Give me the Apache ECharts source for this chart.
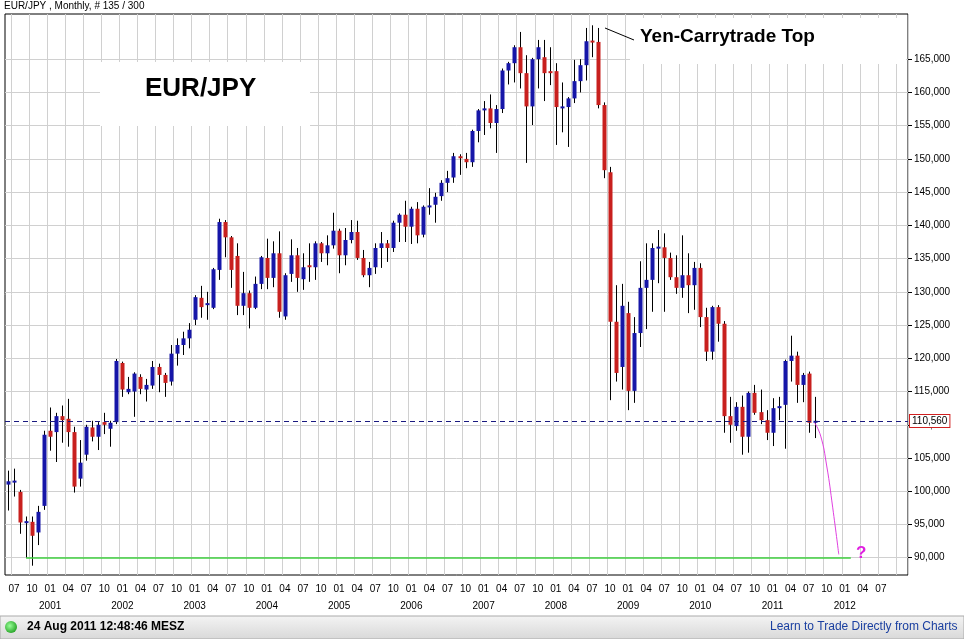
<!DOCTYPE html>
<html><head><meta charset="utf-8">
<script src="https://cdn.jsdelivr.net/npm/echarts@6/dist/echarts.min.js"></script>
<style>html,body{margin:0;padding:0;background:#fff}#c{width:964px;height:639px}</style>
</head><body><div id="c"></div>
<script>
const startYear = 2000, startMonth = 6, slots = 150;
const opens = [101.0,101.3,99.9,95.4,95.4,93.8,97.8,109.1,108.9,111.3,110.9,108.9,101.9,105.5,109.6,108.2,110.4,109.4,110.4,119.3,114.9,115.0,117.2,115.3,115.9,118.7,117.5,116.5,120.7,122.0,123.0,125.8,129.1,128.0,127.6,133.3,140.5,138.2,135.4,127.9,129.8,127.6,131.2,135.1,132.1,135.8,126.3,132.7,135.5,131.9,134.0,133.7,137.3,135.8,137.0,139.2,135.5,137.8,139.0,135.1,132.5,133.7,136.6,137.3,136.6,140.4,141.6,139.8,142.5,138.6,142.8,143.1,144.4,146.4,147.2,150.4,150.0,149.5,154.2,157.3,157.6,155.4,157.5,163.3,164.4,166.8,162.9,157.9,165.0,165.3,163.2,163.2,157.7,157.8,159.1,161.7,164.1,167.8,167.6,158.1,148.0,125.5,118.7,126.8,115.1,123.8,130.6,131.8,136.6,136.7,135.1,132.2,130.6,132.5,131.0,133.6,126.2,121.0,127.7,125.2,111.3,109.8,112.7,108.2,114.8,111.9,110.7,108.8,112.5,113.0,119.6,120.4,116.0,117.7,110.3];
const closes = [101.5,101.6,95.3,95.5,93.3,96.9,108.5,108.2,111.3,110.7,108.9,100.7,104.3,109.7,108.2,110.0,110.0,110.3,119.6,115.3,115.4,117.7,115.4,116.0,118.7,117.5,116.3,120.7,122.0,123.0,124.3,129.2,127.7,128.3,133.4,140.5,138.2,133.3,127.9,129.8,127.6,131.2,135.2,132.1,135.8,127.0,132.5,135.5,132.1,133.7,133.7,137.3,135.8,137.0,139.2,135.5,137.8,139.0,135.1,132.5,133.6,136.6,137.3,136.6,140.4,141.6,139.8,142.5,138.5,142.8,143.0,144.3,146.4,147.1,150.4,150.1,149.5,154.2,157.3,157.6,155.4,157.5,163.3,164.4,166.8,162.9,157.9,165.0,166.8,162.9,162.9,157.8,157.9,159.1,161.7,164.1,167.7,167.6,158.1,148.3,125.5,117.8,127.9,115.1,123.8,130.6,131.8,136.6,136.8,135.1,132.2,130.6,132.5,131.0,133.6,126.2,121.0,127.7,125.2,111.3,110.0,112.7,108.2,114.8,111.8,110.7,108.8,112.5,112.8,119.6,120.4,116.0,117.5,110.3,110.6];
const lows = [97.1,99.2,93.6,90.0,88.8,91.9,97.2,106.1,104.4,107.3,106.7,99.8,100.7,104.6,107.5,106.2,108.6,106.7,110.1,114.2,114.6,111.2,114.6,113.5,115.4,114.9,114.2,115.9,118.9,120.5,121.5,125.0,126.1,125.8,127.4,131.8,135.2,130.6,126.5,126.5,124.5,127.4,130.4,130.4,130.7,126.1,125.8,131.5,130.0,130.3,131.5,131.8,134.5,134.0,136.5,132.8,134.0,137.3,134.8,132.2,130.7,132.7,133.6,134.5,136.0,137.5,137.5,137.2,137.3,138.2,141.6,140.4,143.7,145.0,146.4,147.6,148.6,148.8,152.5,153.6,154.6,150.9,156.9,161.2,161.5,160.6,149.4,155.1,160.6,158.7,161.1,152.1,154.0,151.8,158.4,160.0,161.8,165.3,157.6,147.1,113.7,116.5,115.3,112.2,113.3,121.7,124.4,127.0,131.3,127.0,131.8,129.7,129.1,126.8,127.3,124.7,119.6,119.8,122.5,108.8,107.3,109.1,105.5,105.8,111.5,110.1,107.7,106.8,110.7,106.4,116.5,113.3,113.4,108.8,108.0];
const highs = [103.1,103.4,100.2,96.2,96.2,97.8,109.1,112.6,111.8,112.9,113.9,109.7,107.7,110.0,110.6,110.4,111.8,110.6,119.9,119.5,117.2,117.9,117.6,116.9,119.6,119.2,117.8,122.0,123.0,124.0,125.3,129.5,130.9,130.0,133.6,141.0,140.8,138.4,137.3,133.0,130.2,132.3,135.4,138.0,137.6,139.1,132.8,137.9,136.6,135.8,137.3,137.6,137.5,138.5,141.9,139.5,139.6,140.8,140.7,136.3,134.5,137.3,139.0,137.8,140.7,141.8,143.7,142.8,143.5,143.0,145.6,144.9,146.8,148.2,150.9,150.7,150.9,154.4,157.5,158.7,159.7,158.1,163.6,164.6,167.1,169.1,165.6,165.2,167.9,167.9,166.8,164.4,161.5,159.3,164.9,165.0,169.7,170.1,169.7,158.5,148.8,131.0,131.2,128.5,126.2,134.6,137.3,137.3,139.3,138.8,135.9,135.5,138.5,135.8,134.5,134.3,127.6,127.9,128.0,125.6,114.2,113.4,114.4,115.0,116.0,115.3,112.2,114.0,114.2,119.8,123.4,121.0,117.8,118.0,114.2];
const yTicks = [90,95,100,105,110,115,120,125,130,135,140,145,150,155,160,165];
const projection = [[134,110.3],[135,108.3],[136,103.8],[137,97.5],[138,90.5]];
const lastPrice = 110.56, targetLevel = 90;

const cats = [];
for (let i = 0; i < slots; i++) {
  const m = (startMonth - 1 + i) % 12 + 1, y = startYear + Math.floor((startMonth - 1 + i) / 12);
  cats.push(y + '-' + String(m).padStart(2, '0'));
}
const candles = opens.map((o, i) => [i, o, closes[i], lows[i], highs[i]]);
const isQ = (i) => { const m = +cats[i].slice(5); return m % 3 === 1; };
const fmt = v => v.toFixed(3).replace('.', ',');

const chart = echarts.init(document.getElementById('c'));
chart.setOption({
  animation: false,
  backgroundColor: '#fff',
  grid: {left: 5, right: 56, top: 14, bottom: 64, show: true, borderColor: '#000', borderWidth: 1},
  xAxis: {
    type: 'category', data: cats, boundaryGap: true,
    axisLine: {show: false}, axisTick: {show: false},
    splitLine: {show: true, interval: (i) => isQ(i), lineStyle: {color: '#d0d0d0'}},
    axisLabel: {
      interval: (i) => isQ(i) && i < 146, margin: 6, color: '#000', fontSize: 10, fontFamily: 'Arial, Liberation Sans',
      lineHeight: 17,
      formatter: (v) => { const m = v.slice(5); return m === '01' ? m + '\n' + v.slice(0, 4) : m; }
    }
  },
  yAxis: {
    type: 'value', position: 'right', min: 87.4, max: 171.8, scale: true,
    splitLine: {show: false}, axisLine: {show: false},
    axisTick: {show: true, customValues: yTicks, length: 4, lineStyle: {color: '#000'}},
    axisLabel: {customValues: yTicks, formatter: fmt, color: '#000', fontSize: 10, margin: 6, fontFamily: 'Arial, Liberation Sans'}
  },
  series: [
    {
      type: 'custom', silent: true, z: 2,
      data: candles,
      encode: {x: 0, y: [1, 2, 3, 4]},
      renderItem: (params, api) => {
        const x = api.value(0);
        const pO = api.coord([x, api.value(1)]), pC = api.coord([x, api.value(2)]);
        const pL = api.coord([x, api.value(3)]), pH = api.coord([x, api.value(4)]);
        const up = api.value(2) >= api.value(1);
        const top = Math.min(pO[1], pC[1]);
        let h = Math.abs(pO[1] - pC[1]); if (h < 2) h = 2;
        const cx = Math.round(pO[0]) + 0.5;
        return {type: 'group', children: [
          {type: 'line', shape: {x1: cx, y1: pH[1], x2: cx, y2: pL[1]}, style: {stroke: '#000', lineWidth: 1}},
          {type: 'rect', shape: {x: cx - 2, y: top, width: 4, height: h}, style: {fill: up ? '#1616a8' : '#c8201e'}}
        ]};
      },
      markLine: {
        silent: true, symbol: 'none', z: 1,
        lineStyle: {color: '#d0d0d0', type: 'solid', width: 1},
        label: {show: false},
        data: yTicks.map(v => ({yAxis: v}))
      }
    },
    {
      type: 'line', data: projection, smooth: true, showSymbol: false, z: 3,
      lineStyle: {color: '#e040e0', width: 1},
      markLine: {
        silent: true, symbol: 'none',
        data: [
          {yAxis: lastPrice, lineStyle: {color: '#1a1a80', type: [5, 4], width: 1},
           label: {show: true, position: 'end', formatter: fmt(lastPrice), color: '#000', fontSize: 10,
             backgroundColor: '#fff', borderColor: '#d02020', borderWidth: 1, padding: [1, 2], distance: 2}},
          [{coord: [cats[3], targetLevel], lineStyle: {color: '#40d040', type: 'solid', width: 1.5}, label: {show: false}},
           {coord: [cats[140], targetLevel]}]
        ]
      }
    }
  ],
  graphic: [
    {type: 'text', left: 4, top: 1, style: {text: 'EUR/JPY , Monthly, # 135 / 300', fontSize: 10, fill: '#000', fontFamily: 'Arial, Liberation Sans'}},
    {type: 'rect', shape: {x: 100, y: 62, width: 210, height: 64}, style: {fill: '#fff'}, z: 10},
    {type: 'text', x: 145, y: 76, style: {text: 'EUR/JPY', fontSize: 26, fontWeight: 'bold', fill: '#000', fontFamily: 'Arial, Liberation Sans'}, z: 11},
    {type: 'rect', shape: {x: 630, y: 18, width: 276, height: 46}, style: {fill: '#fff'}, z: 10},
    {type: 'line', shape: {x1: 605, y1: 28, x2: 634, y2: 40}, style: {stroke: '#000', lineWidth: 1}, z: 11},
    {type: 'text', x: 640, y: 27, style: {text: 'Yen-Carrytrade Top', fontSize: 19, fontWeight: 'bold', fill: '#000', fontFamily: 'Arial, Liberation Sans'}, z: 11},
    {type: 'text', x: 856, y: 545, style: {text: '?', fontSize: 17, fontWeight: 'bold', fill: '#e020e0', fontFamily: 'Arial, Liberation Sans'}, z: 11},
    {type: 'rect', shape: {x: 0, y: 616, width: 964, height: 23},
     style: {fill: new echarts.graphic.LinearGradient(0, 0, 0, 1, [{offset: 0, color: '#f4f4f4'}, {offset: 1, color: '#d8d8d8'}]), stroke: '#aaa'}},
    {type: 'circle', shape: {cx: 11, cy: 627, r: 6}, style: {fill: new echarts.graphic.RadialGradient(0.4, 0.4, 0.7, [{offset: 0, color: '#9f9'}, {offset: 1, color: '#1a9a1a'}])}},
    {type: 'text', x: 27, y: 621, style: {text: '24 Aug 2011 12:48:46 MESZ', fontSize: 12, fontWeight: 'bold', fill: '#000', fontFamily: 'Arial, Liberation Sans'}},
    {type: 'text', x: 770, y: 621, style: {text: 'Learn to Trade Directly from Charts', fontSize: 12, fill: '#1a3fa0', fontFamily: 'Arial, Liberation Sans'}}
  ]
});
</script></body></html>
